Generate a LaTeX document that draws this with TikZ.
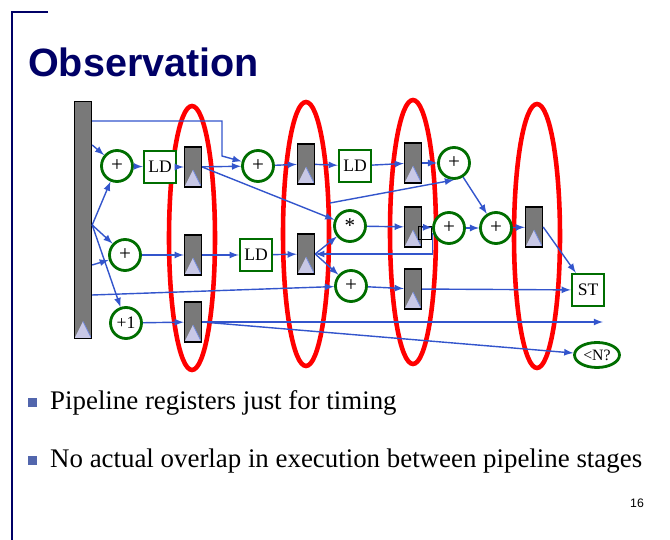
\documentclass[tikz,border=0pt]{standalone}
\usepackage{fontspec}
\setmainfont{Liberation Serif}
\setsansfont{Liberation Sans}
\usetikzlibrary{shapes.geometric}
\definecolor{navy}{RGB}{0,0,102}
\definecolor{wire}{RGB}{51,85,204}
\definecolor{opgreen}{RGB}{0,110,0}
\definecolor{trig}{RGB}{200,200,230}
\tikzset{
  reg/.style={draw=black,thick,fill=gray!95!black,minimum width=0.34cm,minimum height=0.8cm,
    inner sep=0pt,path picture={\fill[trig,draw=wire!70,thin] (path picture bounding box.south west)
    -- (path picture bounding box.south east) -- ([yshift=0.34cm]path picture bounding box.south);}},
  op/.style={circle,draw=opgreen,fill=white,line width=1.6pt,minimum size=0.62cm,inner sep=0pt,font=\large},
  mem/.style={draw=opgreen,fill=white,line width=1.4pt,minimum width=0.64cm,minimum height=0.64cm,inner sep=1pt},
  stage/.style={draw=red,line width=2.6pt},
  wire/.style={draw=wire,thick,-latex}
}
\begin{document}
\begin{tikzpicture}[x=0.02cm,y=-0.02cm]
\useasboundingbox (0,0) rectangle (670,540);
\draw[navy,line width=1.5pt] (48,12) -- (12,12) -- (12,540);
\node[anchor=west,font=\sffamily\bfseries\fontsize{22.5}{26}\selectfont,text=navy] (title) at (22,62) {Observation};
% stages
\foreach \x/\y in {192/238,306/234,413/232,537/236}
  \draw[stage] (\x,\y) ellipse (0.46cm and 2.64cm);
% big register
\node[reg,minimum width=0.34cm,minimum height=4.74cm] (bank) at (83,220) {};
% wires first, nodes drawn on top
\coordinate (end) at (603,322);
\coordinate (fork) at (330,203);
\node[reg] (r11) at (193,167) {};
\node[reg] (r21) at (306,164) {};
\node[reg] (r31) at (413,163) {};
\node[reg] (r12) at (193,255) {};
\node[reg] (r22) at (306,254) {};
\node[reg] (r32) at (413,227) {};
\node[reg] (r41) at (534,227) {};
\node[reg] (r33) at (413,289) {};
\node[reg] (r13) at (193,322) {};
\node[op] (a1) at (117,166) {+};
\node[mem] (ld1) at (160,167) {LD};
\node[op] (a2) at (258,166) {+};
\node[mem] (ld3) at (355,166) {LD};
\node[op] (a5) at (454,163) {+};
\node[op] (b1) at (125,255) {+};
\node[mem] (ld2) at (256,255) {LD};
\node[op] (mul) at (350,226) {*};
\node[op] (a6) at (449,228) {+};
\node[op] (a7) at (496,228) {+};
\node[op] (a3) at (351,286) {+};
\node[mem] (st) at (588,290) {ST};
\node[op,font=\normalsize] (inc) at (126,323) {+1};
\node[ellipse,draw=opgreen,line width=1.6pt,minimum width=0.9cm,minimum height=0.5cm,inner sep=0pt,font=\small] (cmp) at (597,355) {<N?};
\node[draw=black,thick,minimum size=0.26cm,inner sep=0pt] (sq) at (425,233) {};
% wires
\draw[wire] (bank.east |- 0,121) -| (222,156) -- (a2);
\draw[wire] (bank.east |- 0,145) -- (a1);
\draw[wire] (bank.east |- 0,225) -- (a1);
\draw[wire] (bank.east |- 0,225) -- (b1);
\draw[wire] (bank.east |- 0,225) -- (inc);
\draw[wire] (bank.east |- 0,265) -- (b1);
\draw[wire] (bank.east |- 0,295) -- (a3);
\draw[wire] (a1) -- (ld1);
\draw[wire] (ld1) -- (r11);
\draw[wire] (r11) -- (a2);
\draw[wire] (a2) -- (r21);
\draw[wire] (r21) -- (ld3);
\draw[wire] (ld3) -- (r31);
\draw[wire] (r31) -- (a5);
\draw[wire] (r11.east) -- (mul);
\draw[wire] (fork) -- (a5.south);
\draw[wire] (b1) -- (r12);
\draw[wire] (r12) -- (ld2);
\draw[wire] (ld2) -- (r22);
\draw[wire] (r22.east) -- (mul);
\draw[wire] (r22.east) -- (a3);
\draw[wire] (sq.east) |- (r22.east);
\draw[wire] (mul) -- (r32);
\draw[wire] (r32) -- (a6);
\draw[wire] (a6) -- (a7);
\draw[wire] (a5) -- (a7);
\draw[wire] (a7) -- (r41);
\draw[wire] (r41.east) -- (st);
\draw[wire] (a3) -- (r33);
\draw[wire] (r33) -- (st);
\draw[wire] (inc) -- (r13);
\draw[wire] (r13) -- (end);
\draw[wire] (r13.east) -- (cmp);
% bullets
\fill[wire!60!gray] (28,398) rectangle (37,407);
\node[anchor=west,font=\fontsize{15.3}{18}\selectfont] (t1) at (44,403) {Pipeline registers just for timing};
\fill[wire!60!gray] (28,456) rectangle (37,465);
\node[anchor=west,font=\fontsize{15.3}{18}\selectfont] (t2) at (44,461) {No actual overlap in execution between pipeline stages};
\node[font=\sffamily\scriptsize] (page) at (637,503) {16};
\end{tikzpicture}
\end{document}
